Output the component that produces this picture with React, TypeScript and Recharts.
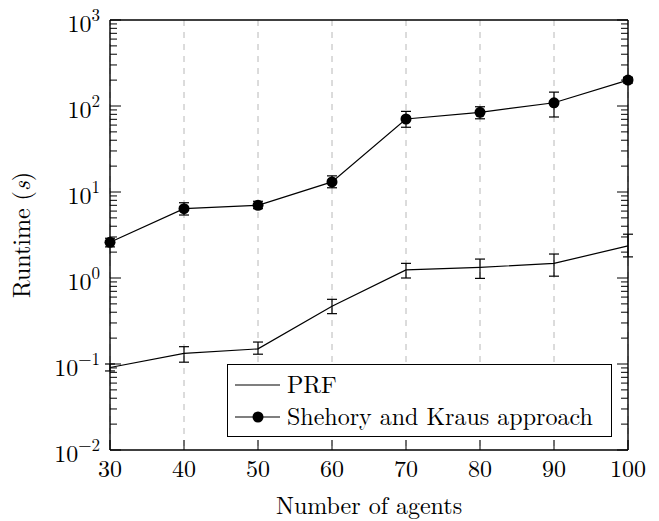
import React from 'react';
import { LineChart, Line, XAxis, YAxis, CartesianGrid, ErrorBar, Legend } from 'recharts';

const agents = [30, 40, 50, 60, 70, 80, 90, 100];
const prfValues = [0.091, 0.133, 0.15, 0.47, 1.24, 1.33, 1.48, 2.36];
const prfErrors: [number, number][] = [
  [0.008, 0.009], [0.028, 0.026], [0.02, 0.03], [0.085, 0.095],
  [0.24, 0.24], [0.34, 0.33], [0.43, 0.42], [0.6, 0.87],
];
const skValues = [2.6, 6.4, 7.0, 13.1, 70.6, 84.5, 109, 200];
const skErrors: [number, number][] = [
  [0.3, 0.3], [1.0, 1.1], [0.6, 0.8], [1.9, 2.3],
  [14, 16], [13.5, 13.5], [34.5, 36], [15, 15],
];
const seriesNames = ['PRF', 'Shehory and Kraus approach'];
const xTicks = [30, 40, 50, 60, 70, 80, 90, 100];
const yMajorTicks = [0.01, 0.1, 1, 10, 100, 1000];
const yMinorMultipliers = [2, 3, 4, 5, 6, 7, 8, 9];
const yTicks = [
  ...yMajorTicks,
  ...yMajorTicks.slice(0, -1).flatMap((d) => yMinorMultipliers.map((m) => +(d * m).toPrecision(3))),
].sort((a, b) => a - b);

const data = agents.map((a, i) => ({
  agents: a,
  prf: prfValues[i],
  prfErr: prfErrors[i],
  sk: skValues[i],
  skErr: skErrors[i],
}));

const FONT = 'Latin Modern Roman, Liberation Serif, serif';
const textStyle: React.CSSProperties = { fontFamily: FONT, fontSize: 24 };

const YTick = (props: any) => {
  const { x, y, payload, side } = props;
  const v = payload.value;
  const lg = Math.log10(v);
  const exp = Math.round(lg);
  const isMajor = Math.abs(lg - exp) < 1e-6;
  const len = isMajor ? 11 : 7;
  const dir = side === 'left' ? 1 : -1;
  return (
    <g>
      <line x1={x} y1={y} x2={x + dir * len} y2={y} stroke="#000" strokeWidth={1} />
      {side === 'left' && isMajor && (
        <text x={x - 10} y={y + 12} textAnchor="end" style={textStyle} fill="#000">
          10
          <tspan dy={-11} style={{ fontFamily: FONT, fontSize: 17 }}>
            {exp < 0 ? '\u2212' + Math.abs(exp) : String(exp)}
          </tspan>
        </text>
      )}
    </g>
  );
};

const XTick = (props: any) => {
  const { x, y, payload } = props;
  return (
    <g>
      <line x1={x} y1={y} x2={x} y2={y - 10} stroke="#000" strokeWidth={1} />
      <text x={x} y={y + 27} textAnchor="middle" style={textStyle} fill="#000">
        {payload.value}
      </text>
    </g>
  );
};

const LegendBox = () => (
  <div
    style={{
      width: 385,
      height: 73,
      boxSizing: 'border-box',
      border: '1.3px solid #000',
      background: '#fff',
      position: 'relative',
    }}
  >
    <svg width={385} height={73} style={{ position: 'absolute', left: -1, top: -1 }}>
      <line x1={8} y1={21} x2={53} y2={21} stroke="#000" strokeWidth={1.2} />
      <line x1={8} y1={53} x2={53} y2={53} stroke="#000" strokeWidth={1.2} />
      <circle cx={31} cy={53} r={5.5} fill="#000" />
      <text x={60} y={29} style={textStyle} fill="#000">{seriesNames[0]}</text>
      <text x={60} y={61} style={textStyle} fill="#000">{seriesNames[1]}</text>
    </svg>
  </div>
);

export default function App() {
  return (
    <div style={{ position: 'absolute', left: 0, top: 0, width: 659, height: 521, background: '#fff' }}>
      <LineChart width={659} height={521} data={data} margin={{ top: 19, right: 0, bottom: 0, left: 0 }}>
        <CartesianGrid
          xAxisId="bottom"
          yAxisId="left"
          horizontal={false}
          vertical={true}
          stroke="#b8b8b8"
          strokeDasharray="6 6"
          strokeWidth={1}
        />
        <XAxis
          xAxisId="bottom"
          dataKey="agents"
          type="number"
          domain={[30, 100]}
          ticks={xTicks}
          interval={0}
          height={71}
          tickSize={0}
          tickMargin={0}
          tickLine={false}
          axisLine={{ stroke: '#000', strokeWidth: 1.4 }}
          tick={<XTick />}
          label={(p: any) => {
            const vb = p.viewBox;
            return (
              <text x={vb.x + vb.width / 2} y={vb.y + 64} textAnchor="middle" style={textStyle} fill="#000">
                Number of agents
              </text>
            );
          }}
        />
        <XAxis
          xAxisId="top"
          orientation="top"
          dataKey="agents"
          type="number"
          domain={[30, 100]}
          ticks={xTicks}
          height={1}
          tick={false}
          tickLine={false}
          axisLine={{ stroke: '#000', strokeWidth: 1.4 }}
        />
        <YAxis
          yAxisId="left"
          scale="log"
          type="number"
          domain={[0.01, 1000]}
          allowDataOverflow
          ticks={yTicks}
          interval={0}
          width={110}
          tickSize={0}
          tickMargin={0}
          tickLine={false}
          axisLine={{ stroke: '#000', strokeWidth: 1.4 }}
          tick={<YTick side="left" />}
          label={(p: any) => {
            const vb = p.viewBox;
            const cx = 30;
            const cy = vb.y + vb.height / 2;
            return (
              <text
                x={cx}
                y={cy}
                transform={`rotate(-90, ${cx}, ${cy})`}
                textAnchor="middle"
                style={textStyle}
                fill="#000"
              >
                Runtime (<tspan style={{ fontFamily: FONT, fontStyle: 'italic' }}>s</tspan>)
              </text>
            );
          }}
        />
        <YAxis
          yAxisId="right"
          orientation="right"
          scale="log"
          type="number"
          domain={[0.01, 1000]}
          allowDataOverflow
          ticks={yTicks}
          interval={0}
          width={31}
          tickSize={0}
          tickMargin={0}
          tickLine={false}
          axisLine={{ stroke: '#000', strokeWidth: 1.4 }}
          tick={<YTick side="right" />}
        />
        <Legend
          layout="horizontal"
          verticalAlign="middle"
          align="center"
          wrapperStyle={{ left: 227, top: 364, width: 385, height: 73 }}
          content={() => <LegendBox />}
        />
        <Line
          xAxisId="bottom"
          yAxisId="left"
          name={seriesNames[0]}
          dataKey="prf"
          type="linear"
          stroke="#000"
          strokeWidth={1.2}
          dot={false}
          isAnimationActive={false}
        >
          <ErrorBar dataKey="prfErr" direction="y" width={5} stroke="#000" strokeWidth={1.2} />
        </Line>
        <Line
          xAxisId="bottom"
          yAxisId="left"
          name={seriesNames[1]}
          dataKey="sk"
          type="linear"
          stroke="#000"
          strokeWidth={1.2}
          dot={{ r: 5.5, fill: '#000', stroke: 'none' }}
          isAnimationActive={false}
        >
          <ErrorBar dataKey="skErr" direction="y" width={5} stroke="#000" strokeWidth={1.2} />
        </Line>
      </LineChart>
    </div>
  );
}
